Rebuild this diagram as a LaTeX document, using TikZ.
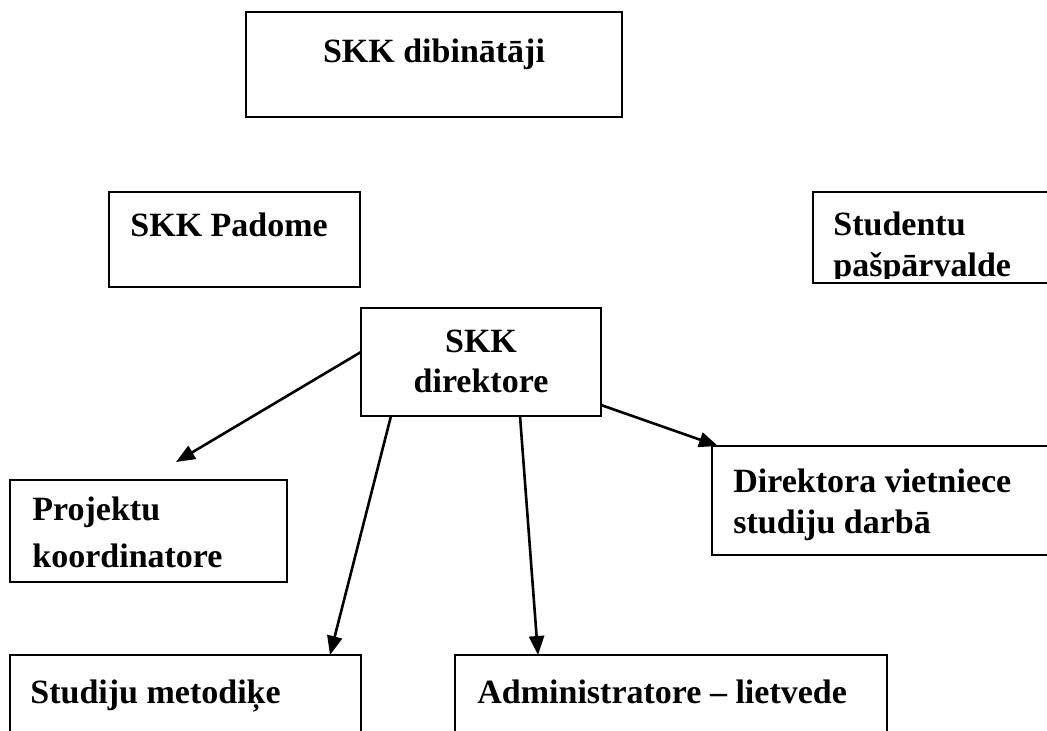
\documentclass[tikz,border=0pt]{standalone}
\usepackage{fontspec}
\setmainfont{Liberation Serif}
\usetikzlibrary{arrows.meta}
\tikzset{
  box/.style={draw, line width=1.1pt, inner sep=0pt, outer sep=0pt, anchor=north west},
  lbl/.style={font=\bfseries\fontsize{17}{20.5}\selectfont, inner sep=0pt, align=left, anchor=base west},
  arr/.style={-{Triangle[length=9.5pt,width=7.5pt]}, line width=1.3pt},
}
\begin{document}
\begin{tikzpicture}[x=0.5pt, y=-0.5pt]
  % 描画範囲
  \clip (0,0) rectangle (1047,731);

  % 枠の描画
  \node[box, minimum width=188pt, minimum height=52.5pt] (fnd) at (246,12) {};
  \node[box, minimum width=125.5pt, minimum height=47.5pt] (council) at (109,192) {};
  \node[box, minimum width=125pt, minimum height=45.5pt] (stud) at (813,192) {};
  \node[box, minimum width=120pt, minimum height=54pt] (dir) at (361,308) {};
  \node[box, minimum width=138.5pt, minimum height=51pt] (proj) at (10,480) {};
  \node[box, minimum width=175pt, minimum height=54.5pt] (dep) at (712,446) {};
  \node[box, minimum width=175.5pt, minimum height=60pt] (meth) at (10,655) {};
  \node[box, minimum width=216pt, minimum height=60pt] (adm) at (455,655) {};

  % 文字の描画 (複数行は最終行のベースライン)
  \node[lbl, anchor=base] (fndtxt) at (434,63) {SKK dibinātāji};
  \node[lbl] (counciltxt) at (130,237) {SKK Padome};
  \begin{scope}
    \clip ([shift={(2pt,-2pt)}]stud.north west) rectangle ([shift={(-2pt,2pt)}]stud.south east);
    \node[lbl] (studtxt) at (833,277) {Studentu\\pašpārvalde};
  \end{scope}
  \node[lbl, align=center, anchor=base, font=\bfseries\fontsize{17}{20}\selectfont] (dirtxt) at (481,393) {SKK\\direktore};
  \node[lbl, font=\bfseries\fontsize{17}{23.5}\selectfont] (projtxt) at (32,567) {Projektu\\koordinatore};
  \node[lbl] (deptxt) at (733,533) {Direktora vietniece\\studiju darbā};
  \node[lbl] (methtxt) at (30,703) {Studiju metodiķe};
  \node[lbl] (admtxt) at (477,703) {Administratore – lietvede};

  % 矢印の終点
  \coordinate (projend) at ([xshift=83pt, yshift=9pt]proj.north west);
  \coordinate (methend) at ([xshift=160pt]meth.north west);
  \coordinate (admend) at ([xshift=41.5pt]adm.north west);
  \coordinate (depend) at ([xshift=3pt]dep.north west);

  % 矢印の描画
  \draw[arr] ([yshift=5pt]dir.west) -- (projend);
  \draw[arr] ([xshift=15pt]dir.south west) -- (methend);
  \draw[arr] ([xshift=79.5pt]dir.south west) -- (admend);
  \draw[arr] ([yshift=5.5pt]dir.south east) -- (depend);
\end{tikzpicture}
\end{document}
